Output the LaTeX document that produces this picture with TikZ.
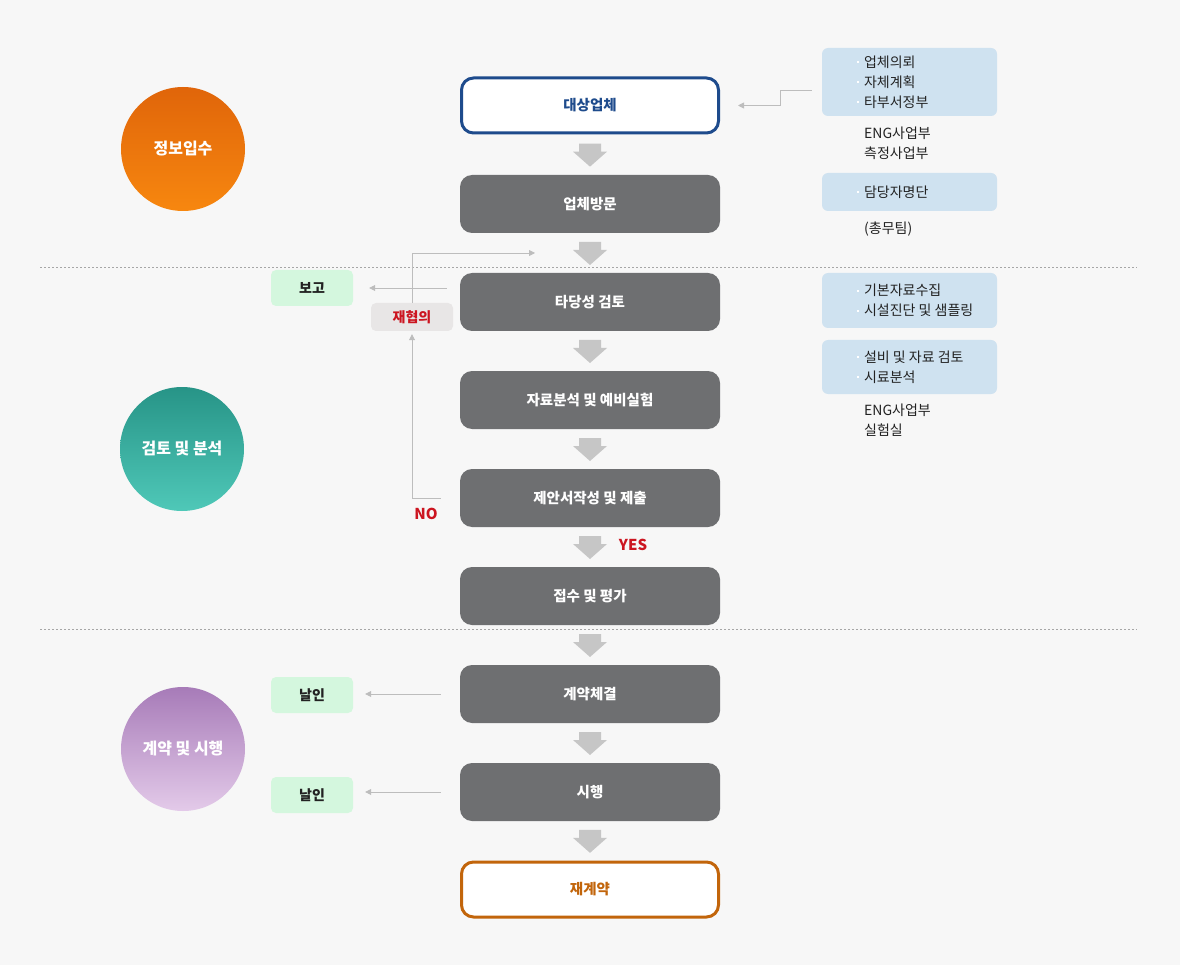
\documentclass[tikz,border=0pt]{standalone}
\usepackage{fontspec}
\setmainfont{Noto Sans CJK KR}
\usetikzlibrary{arrows.meta,calc,positioning}
\definecolor{paper}{HTML}{F7F7F7}
\definecolor{stepgray}{HTML}{6E6F71}
\definecolor{navy}{HTML}{1E4B8C}
\definecolor{amber}{HTML}{C2650B}
\definecolor{infoblue}{HTML}{CFE2F0}
\definecolor{mint}{HTML}{D4F7DE}
\definecolor{pale}{HTML}{E8E6E6}
\definecolor{alert}{HTML}{CC1520}
\definecolor{linegray}{HTML}{BDBDBD}
\definecolor{blockgray}{HTML}{C6C6C6}
\definecolor{inkgray}{HTML}{222222}
\definecolor{orangetop}{HTML}{E0650A}
\definecolor{orangebot}{HTML}{F7870F}
\definecolor{tealtop}{HTML}{279487}
\definecolor{tealbot}{HTML}{4FC8B8}
\definecolor{violettop}{HTML}{A77BB8}
\definecolor{violetbot}{HTML}{E3CAE9}
\newcommand{\itm}{\llap{\raisebox{4pt}{\color{white}\rule{2.2pt}{2.2pt}}\hspace{5pt}}}
\begin{document}
\begin{tikzpicture}[x=1pt,y=-1pt,>={Triangle[length=6pt,width=6pt]},
  stepbox/.style={rectangle,rounded corners=12pt,minimum width=260pt,minimum height=58pt,fill=stepgray,text=white,font=\fontsize{14.5}{16}\selectfont\bfseries},
  endbox/.style={stepbox,fill=white,line width=3pt,minimum width=257pt,minimum height=55pt},
  phase/.style={circle,minimum size=124pt,text=white,font=\fontsize{16}{18}\selectfont\bfseries},
  tagbox/.style={rectangle,rounded corners=5pt,minimum width=82pt,minimum height=36pt,text=inkgray,font=\fontsize{14}{16}\selectfont\bfseries},
  infobox/.style={rectangle,rounded corners=6pt,fill=infoblue,minimum width=175pt},
  infotext/.style={anchor=west,align=left,inner sep=0pt,text=inkgray,font=\fontsize{14}{20}\selectfont},
  flag/.style={text=alert,font=\fontsize{15}{17}\selectfont\bfseries},
  link/.style={draw=linegray,line width=0.8pt},
  sep/.style={draw=gray!70,line width=0.6pt,dash pattern=on 2pt off 2pt},
  blockarrow/.style={fill=blockgray}]
\useasboundingbox[fill=paper] (0,0) rectangle (1180,965);
% phase separators
\draw[sep] (40,267)--(1137,267);
\draw[sep] (40,629)--(1137,629);
% phases
\node[phase,top color=orangetop,bottom color=orangebot] (info) at (183,149) {정보입수};
\node[phase,top color=tealtop,bottom color=tealbot] (study) at (182,449) {검토 및 분석};
\node[phase,top color=violettop,bottom color=violetbot] (deal) at (183,749) {계약 및 시행};
% main flow
\node[endbox,draw=navy,text=navy] (target) at (590,105.5) {대상업체};
\node[stepbox] (visit) at (590,204) {업체방문};
\node[stepbox] (review) at (590,302) {타당성 검토};
\node[stepbox] (analysis) at (590,400) {자료분석 및 예비실험};
\node[stepbox] (proposal) at (590,498) {제안서작성 및 제출};
\node[stepbox] (evaluate) at (590,596) {접수 및 평가};
\node[stepbox] (contract) at (590,694) {계약체결};
\node[stepbox] (execute) at (590,792) {시행};
\node[endbox,draw=amber,text=amber] (renew) at (590,889.5) {재계약};
\foreach \a/\b in {target/visit,visit/review,review/analysis,analysis/proposal,proposal/evaluate,evaluate/contract,contract/execute,execute/renew}
  \fill[blockarrow,shift={($(\a.south)!.5!(\b.north)$)}] (-11,-11)--(11,-11)--(11,-3)--(17,-3)--(0,12)--(-17,-3)--(-11,-3)--cycle;
\node[flag] (yes) at (633,545) {YES};
% side notes
\node[infobox,minimum height=68pt] (source) at (909.5,82) {};
\node[infotext] at ([xshift=42pt]source.west) {\itm 업체의뢰\\\itm 자체계획\\\itm 타부서정부};
\node[infotext] (dept1) at (864,143) {ENG사업부\\측정사업부};
\node[infobox,minimum height=38pt] (staff) at (909.5,192) {};
\node[infotext] at ([xshift=42pt]staff.west) {\itm 담당자명단};
\node[infotext] (dept2) at (864,229) {(총무팀)};
\node[infobox,minimum height=55pt] (survey) at (909.5,300.5) {};
\node[infotext] at ([xshift=42pt]survey.west) {\itm 기본자료수집\\\itm 시설진단 및 샘플링};
\node[infobox,minimum height=54pt] (test) at (909.5,367) {};
\node[infotext] at ([xshift=42pt]test.west) {\itm 설비 및 자료 검토\\\itm 시료분석};
\node[infotext] (dept3) at (864,420) {ENG사업부\\실험실};
\draw[link,->] ([shift={(-10,8)}]source.west)--++(-31,0)|-([xshift=18pt]target.east);
% left side
\node[tagbox,fill=mint] (report) at (312,288) {보고};
\node[tagbox,fill=pale,text=alert,minimum height=28pt] (renego) at (412,317) {재협의};
\node[tagbox,fill=mint] (seal1) at (312,695) {날인};
\node[tagbox,fill=mint] (seal2) at (312,795) {날인};
\draw[link,->] ([xshift=-13pt]review.west|-report.east)--([xshift=16pt]report.east);
\draw[link,->] (renego.north)|-($(visit.south)!.5!(review.north)+(-55,0)$);
\draw[link,->] ([xshift=-19pt]proposal.west)-|([yshift=-3pt]renego.south);
\node[flag] (no) at (426,514) {NO};
\draw[link,->] ([xshift=-19pt]contract.west)--([xshift=12pt]seal1.east|-contract.west);
\draw[link,->] ([xshift=-19pt]execute.west)--([xshift=12pt]seal2.east|-execute.west);
\end{tikzpicture}
\end{document}
